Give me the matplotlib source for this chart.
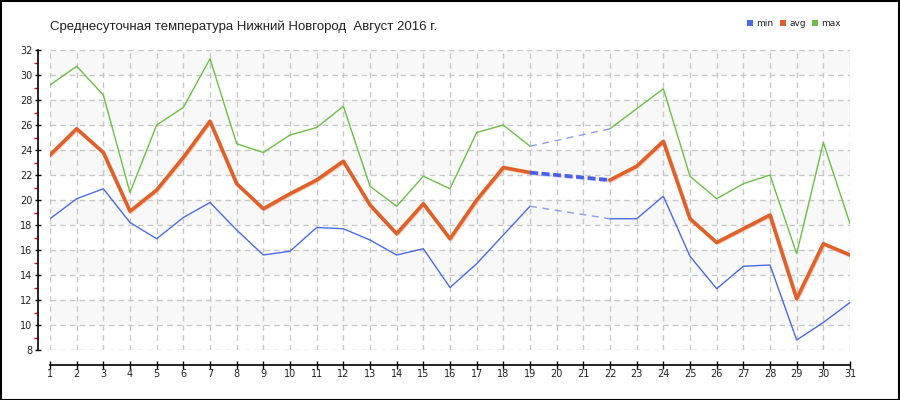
import matplotlib
matplotlib.use("Agg")
import matplotlib.pyplot as plt
import matplotlib.patheffects as pe
from matplotlib.patches import Rectangle
import numpy as np

days = list(range(1, 32))
t_min = [18.5, 20.1, 20.9, 18.2, 16.9, 18.6, 19.8, 17.6, 15.6, 15.9, 17.8, 17.7, 16.8, 15.6, 16.1, 13.0,
         14.9, 17.2, 19.5, None, None, 18.5, 18.5, 20.3, 15.5, 12.9, 14.7, 14.8, 8.8, 10.2, 11.8]
t_avg = [23.6, 25.7, 23.8, 19.1, 20.8, 23.4, 26.3, 21.3, 19.3, 20.5, 21.6, 23.1, 19.6, 17.3, 19.7, 16.9,
         20.0, 22.6, 22.2, None, None, 21.6, 22.7, 24.7, 18.5, 16.6, 17.7, 18.8, 12.1, 16.5, 15.6]
t_max = [29.2, 30.7, 28.4, 20.6, 26.0, 27.4, 31.3, 24.5, 23.8, 25.2, 25.8, 27.5, 21.1, 19.5, 21.9, 20.9,
         25.4, 26.0, 24.3, None, None, 25.7, 27.3, 28.9, 21.9, 20.1, 21.3, 22.0, 15.7, 24.6, 18.1]
series_names = ["min", "avg", "max"]
title = "Среднесуточная температура Нижний Новгород  Август 2016 г."

col_min = "#4a6be6"
col_avg = "#e0602a"
col_max = "#6cbf45"

fig = plt.figure(figsize=(9, 4), dpi=100)
ax = fig.add_axes([50 / 900, 50 / 400, 800 / 900, 300 / 400])

ax.set_xlim(1, 31)
ax.set_ylim(8, 32)

# alternating bands
for lo in range(10, 32, 4):
    ax.axhspan(lo, lo + 2, color="#f8f8f8", zorder=0, lw=0)

# grid
ax.set_xticks(days)
ax.set_yticks(range(8, 33, 2))
ax.set_yticks(range(9, 32, 2), minor=True)
ax.grid(True, which="major", color="#c8c8c8", linestyle=(0, (4, 3)), linewidth=1, zorder=1)


def split(vals):
    return np.array([np.nan if v is None else v for v in vals], dtype=float)


def gap_segments(vals):
    segs = []
    arr = split(vals)
    i = 0
    n = len(arr)
    while i < n:
        if np.isnan(arr[i]):
            j = i
            while j < n and np.isnan(arr[j]):
                j += 1
            if i > 0 and j < n:
                segs.append(((days[i - 1], arr[i - 1]), (days[j], arr[j])))
            i = j
        else:
            i += 1
    return segs


x = np.array(days)
# max
ax.plot(x, split(t_max), color=col_max, lw=1.0, zorder=3)
for (a, b) in gap_segments(t_max):
    ax.plot([a[0], b[0]], [a[1], b[1]], color="#8c9cf0", lw=1.0, ls=(0, (5, 4)), zorder=3)
# min
ax.plot(x, split(t_min), color=col_min, lw=1.0, zorder=3)
for (a, b) in gap_segments(t_min):
    ax.plot([a[0], b[0]], [a[1], b[1]], color="#8c9cf0", lw=1.0, ls=(0, (5, 4)), zorder=3)
# avg
ax.plot(x, split(t_avg), color=col_avg, lw=2.6, zorder=4,
        path_effects=[pe.SimpleLineShadow(offset=(0.6, -0.6), shadow_color="#f5b89c", alpha=0.7),
                      pe.Normal()])
for (a, b) in gap_segments(t_avg):
    ax.plot([a[0], b[0]], [a[1], b[1]], color="#4a5ee8", lw=2.6, ls=(0, (2.2, 1.0)), zorder=4,
            dash_capstyle="butt",
            path_effects=[pe.SimpleLineShadow(offset=(0.6, -0.6), shadow_color="#aab4f4", alpha=0.7),
                          pe.Normal()])

# spines
for s in ["top", "right"]:
    ax.spines[s].set_visible(False)
ax.spines["left"].set_position(("outward", 9))
ax.spines["bottom"].set_position(("outward", 11))
for s in ["left", "bottom"]:
    ax.spines[s].set_color("#000000")
    ax.spines[s].set_linewidth(1.2)

ax.tick_params(axis="y", which="major", direction="inout", length=5, width=1, color="#000000",
               labelsize=7, labelcolor="#222222", pad=1)
ax.tick_params(axis="y", which="minor", direction="out", length=3, width=1, color="#e00000")
ax.tick_params(axis="x", which="major", direction="inout", length=6, width=1, color="#000000",
               labelsize=7, labelcolor="#222222", pad=0)
ax.set_xticklabels([str(d) for d in days])
ax.set_yticklabels([str(v) for v in range(8, 33, 2)])

# title
fig.text(50 / 900, 1 - 27 / 400, title, fontsize=9.5, family="Liberation Sans",
         color="#222222", va="center", ha="left")

# legend
cols = [col_min, col_avg, col_max]
lx = [747, 780, 812]
for name, c, px in zip(series_names, cols, lx):
    fig.patches.append(Rectangle((px / 900, 1 - 26 / 400), 6 / 900, 6 / 400, transform=fig.transFigure,
                                 facecolor=c, edgecolor="none"))
    fig.text((px + 9) / 900, 1 - 23 / 400, name, fontsize=6.5, color="#222222", va="center", ha="left")

# outer border
fig.patches.append(Rectangle((0.5 / 900, 0.5 / 400), 898.5 / 900, 398.5 / 400, transform=fig.transFigure,
                             facecolor="none", edgecolor="#000000", lw=1.5))

fig.savefig("out.png", dpi=100)
